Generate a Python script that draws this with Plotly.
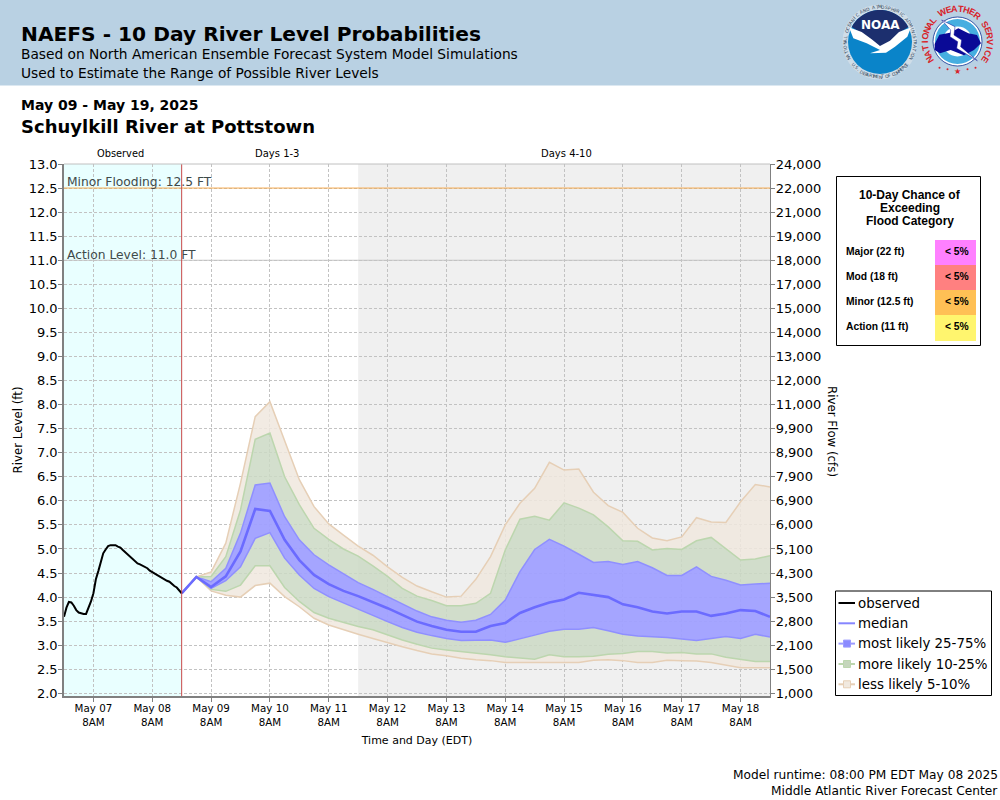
import math
import pandas as pd
import plotly.graph_objects as go

# ---------- data ----------
observed_level = [3.59,3.78,3.90,3.89,3.82,3.73,3.68,3.66,3.65,3.65,3.77,3.91,4.08,4.37,4.54,4.72,4.91,4.99,5.06,5.08,5.08,5.08,5.05,5.03,4.98,
                  4.93,4.89,4.84,4.80,4.75,4.70,4.68,4.65,4.63,4.60,4.55,4.52,4.48,4.45,4.43,4.40,4.36,4.34,4.32,4.27,4.23,4.20,4.14,4.08]
tan_top = [4.08,4.42,4.52,5.12,6.37,7.75,8.06,7.23,6.44,5.88,5.52,5.29,5.06,4.87,
           4.63,4.41,4.23,4.11,4.00,4.02,4.37,4.84,5.50,5.95,6.26,6.80,6.64,6.66,6.18,5.90,5.76,5.43,5.23,5.17,5.25,5.65,5.56,5.55,5.98,6.34,6.29]
green_top = [4.08,4.42,4.43,4.84,5.81,7.28,7.41,6.50,5.92,5.43,5.20,5.00,4.85,4.65,
             4.43,4.18,4.02,3.93,3.82,3.82,3.87,4.08,4.98,5.62,5.68,5.60,5.96,5.85,5.71,5.46,5.17,5.16,4.98,5.01,4.99,5.17,5.24,5.01,4.77,4.79,4.86]
blue_top = [4.08,4.42,4.32,4.60,5.33,6.33,6.37,5.67,5.19,4.88,4.67,4.49,4.30,4.16,
            4.01,3.85,3.71,3.59,3.52,3.48,3.52,3.64,3.94,4.53,4.99,5.20,5.06,4.89,4.72,4.74,4.68,4.74,4.61,4.45,4.45,4.63,4.43,4.35,4.25,4.27,4.29]
median = [4.08,4.42,4.21,4.43,4.95,5.83,5.79,5.19,4.77,4.46,4.27,4.13,4.02,3.90,
          3.77,3.63,3.49,3.40,3.32,3.28,3.28,3.40,3.46,3.67,3.79,3.89,3.95,4.09,4.04,4.00,3.85,3.79,3.70,3.66,3.70,3.70,3.61,3.66,3.73,3.71,3.59]
blue_bot = [4.08,4.42,4.18,4.34,4.63,5.22,5.34,4.81,4.46,4.18,4.01,3.88,3.74,3.62,
            3.49,3.37,3.27,3.20,3.14,3.10,3.11,3.11,3.06,3.13,3.21,3.29,3.33,3.33,3.37,3.30,3.23,3.19,3.18,3.16,3.13,3.10,3.14,3.18,3.14,3.23,3.17]
green_bot = [4.08,4.42,4.16,4.12,4.25,4.65,4.65,4.20,3.91,3.68,3.56,3.47,3.39,3.32,
             3.21,3.11,3.02,2.94,2.90,2.87,2.84,2.80,2.76,2.73,2.71,2.80,2.76,2.76,2.77,2.81,2.83,2.87,2.87,2.84,2.85,2.82,2.82,2.75,2.70,2.66,2.66]
tan_bot = [4.08,4.42,4.13,4.04,4.00,4.24,4.29,4.01,3.80,3.56,3.42,3.32,3.23,3.14,
           3.05,2.97,2.89,2.82,2.78,2.73,2.70,2.68,2.64,2.64,2.63,2.64,2.64,2.64,2.69,2.70,2.68,2.64,2.64,2.69,2.68,2.67,2.64,2.58,2.53,2.53,2.53]
stage_ticks = [2.0,2.5,3.0,3.5,4.0,4.5,5.0,5.5,6.0,6.5,7.0,7.5,8.0,8.5,9.0,9.5,10.0,10.5,11.0,11.5,12.0,12.5,13.0]
flow_labels = ["1,000","1,500","2,100","2,800","3,500","4,300","5,100","6,000","6,900","7,900","8,900","9,900","11,000",
               "12,000","13,000","14,000","15,000","17,000","18,000","19,000","21,000","22,000","24,000"]
day_labels = ["May 07","May 08","May 09","May 10","May 11","May 12","May 13","May 14","May 15","May 16","May 17","May 18"]
categories = ["Major (22 ft)","Mod (18 ft)","Minor (12.5 ft)","Action (11 ft)"]
chances = ["< 5%","< 5%","< 5%","< 5%"]

obs_times = pd.date_range("2025-05-06 20:00", periods=len(observed_level), freq="h")
fc_times = pd.date_range("2025-05-08 20:00", periods=len(median), freq="6h")
tick_times = pd.date_range("2025-05-07 08:00", periods=len(day_labels), freq="D")

# ---------- layout geometry (pixels) ----------
W, H = 1000, 800
L, R, T, B = 64, 770, 164, 696
def px(x): return (x - L) / (R - L)
def py(y): return (B - y) / (B - T)

TAN, TAN_L = "rgba(240,232,222,0.85)", "#e6cfb6"
GRN, GRN_L = "rgba(203,217,196,0.85)", "#bcd6ae"
BLU, BLU_L = "rgba(160,160,255,0.95)", "#8f8fff"
MED = "#6b6bff"

fig = go.Figure()
fig.add_trace(go.Scatter(x=fc_times, y=tan_bot, mode="lines", line=dict(color=TAN_L, width=1.5), name="less likely 5-10%", showlegend=False, hoverinfo="skip"))
for vals, fill, lc, nm in [(green_bot, TAN, GRN_L, "more likely 10-25%"), (blue_bot, GRN, BLU_L, "most likely 25-75%"),
                           (blue_top, BLU, BLU_L, "most likely 25-75%"), (green_top, GRN, GRN_L, "more likely 10-25%"),
                           (tan_top, TAN, TAN_L, "less likely 5-10%")]:
    fig.add_trace(go.Scatter(x=fc_times, y=vals, mode="lines", fill="tonexty", fillcolor=fill, line=dict(color=lc, width=1.5),
                             name=nm, showlegend=False))
fig.add_trace(go.Scatter(x=fc_times, y=median, mode="lines", line=dict(color=MED, width=2.6), name="median", showlegend=False))
fig.add_trace(go.Scatter(x=obs_times, y=observed_level, mode="lines", line=dict(color="black", width=2), name="observed", showlegend=False))
fig.add_trace(go.Scatter(x=fc_times[:1], y=[None], yaxis="y2", showlegend=False, hoverinfo="skip"))

shapes, ann = [], []
def rect(x0, y0, x1, y1, fill, line=None, lw=1, layer="above"):
    shapes.append(dict(type="rect", xref="paper", yref="paper", x0=px(x0), x1=px(x1), y0=py(y0), y1=py(y1),
                       fillcolor=fill, line=dict(color=line or "rgba(0,0,0,0)", width=lw if line else 0), layer=layer))
def seg(x0, y0, x1, y1, color, lw=1, layer="above"):
    shapes.append(dict(type="line", xref="paper", yref="paper", x0=px(x0), x1=px(x1), y0=py(y0), y1=py(y1),
                       line=dict(color=color, width=lw), layer=layer))
def circ(cx, cy, r, fill, line=None, lw=0):
    shapes.append(dict(type="circle", xref="paper", yref="paper", x0=px(cx-r), x1=px(cx+r), y0=py(cy+r), y1=py(cy-r),
                       fillcolor=fill, line=dict(color=line or "rgba(0,0,0,0)", width=lw), layer="above"))
def poly(pts, fill, line=None, lw=0):
    d = "M " + " L ".join(f"{px(x):.5f},{py(y):.5f}" for x, y in pts) + " Z"
    shapes.append(dict(type="path", xref="paper", yref="paper", path=d, fillcolor=fill,
                       line=dict(color=line or "rgba(0,0,0,0)", width=lw), layer="above"))
def text(x, y, s, size=12, color="#000", bold=False, anchor="left", family="DejaVu Sans", angle=0):
    ann.append(dict(xref="paper", yref="paper", x=px(x), y=py(y), text=f"<b>{s}</b>" if bold else s, showarrow=False,
                    xanchor=anchor, yanchor="middle", textangle=angle, borderpad=0, align=anchor,
                    font=dict(size=size, color=color, family=family)))

# plot regions
xr = lambda a, b: dict(type="rect", xref="x", yref="paper", x0=a, x1=b, y0=0, y1=1, line=dict(width=0), layer="below")
shapes.append({**xr("2025-05-06 20:00", "2025-05-08 20:00"), "fillcolor": "#e9ffff"})
shapes.append({**xr("2025-05-11 20:00", "2025-05-18 20:00"), "fillcolor": "#f0f0f0"})
shapes.append(dict(type="line", xref="paper", yref="y", x0=0, x1=1, y0=12.5, y1=12.5, line=dict(color="#f5a94e", width=1), layer="above"))
shapes.append(dict(type="line", xref="paper", yref="y", x0=0, x1=1, y0=11.0, y1=11.0, line=dict(color="#c4c4c4", width=1), layer="above"))
shapes.append(dict(type="line", xref="x", yref="paper", x0="2025-05-08 20:00", x1="2025-05-08 20:00", y0=0, y1=1, line=dict(color="#c84a4a", width=1), layer="above"))
seg(L, T, R, T, "#c0c0c0", 1)
text(66, 181.5, "Minor Flooding: 12.5 FT", 12.3, "#404a4a")
text(66, 254.5, "Action Level: 11.0 FT", 12.3, "#404a4a")
text(120, 153.5, "Observed", 9.8, anchor="center")
text(276.5, 153.5, "Days 1-3", 10, anchor="center")
text(566.5, 153.5, "Days 4-10", 10, anchor="center")

# header
rect(0, 0, W, 85.5, "#b9d1e3")
text(20, 33.5, "NAEFS - 10 Day River Level Probabilities", 20.2, bold=True)
text(20, 54, "Based on North American Ensemble Forecast System Model Simulations", 13.75)
text(20, 73, "Used to Estimate the Range of Possible River Levels", 13.75)
text(20, 105, "May 09 - May 19, 2025", 14, bold=True)
text(20, 126, "Schuylkill River at Pottstown", 18, bold=True)
text(998.5, 775, "Model runtime: 08:00 PM EDT May 08 2025", 12.2, anchor="right")
text(998.5, 791, "Middle Atlantic River Forecast Center", 12.2, anchor="right")
text(832, 431, "River Flow (cfs)", 11.8, anchor="center", angle=90)

# exceedance box
LS = "Liberation Sans"
rect(836.5, 176.5, 980.5, 345.5, "#ffffff", "#000000", 1)
for y, s in zip((195, 208, 221), ("10-Day Chance of", "Exceeding", "Flood Category")):
    text(910, y, s, 12, bold=True, anchor="center", family=LS)
for i, (cat, ch, col) in enumerate(zip(categories, chances, ("#ff80ff", "#ff8080", "#ffc055", "#fff56e"))):
    y0 = 240 + i * 25
    rect(935, y0, 976, y0 + (26 if i == 3 else 25), col)
    text(844.5, y0 + 11.4, cat, 10.3, bold=True, family=LS)
    text(970, y0 + 11.4, ch, 10.3, bold=True, family=LS, anchor="right")

# legend box
rect(835.5, 591, 991.5, 695.5, "#ffffff", "#000000", 1)
leg = [("observed", "#000000", None), ("median", "#8686ff", None), ("most likely 25-75%", "#9b9bff", "#8a8aff"),
       ("more likely 10-25%", "#bcd6ae", "#c5d6bc"), ("less likely 5-10%", "#e6cfb6", "#f1e9df")]
for (name, lc, box), y in zip(leg, (603, 623.3, 643.6, 664, 684.3)):
    seg(838.5, y, 855, y, lc, 2)
    if box:
        rect(843.5, y - 3.5, 850.5, y + 3.5, box, lc, 1)
    text(857, y, name, 13.4)

# NOAA logo
def z(p): return (830 + p[0] / 3, p[1] / 3)
def arc(cx, cy, r, a0, a1, n=30):
    return [(cx + r * math.sin(math.radians(a0 + (a1 - a0) * k / n)), cy - r * math.cos(math.radians(a0 + (a1 - a0) * k / n))) for k in range(n + 1)]
def ring(s, cx, cy, r, a0, a1, size, color, bold=False, fam="DejaVu Sans"):
    n = len(s)
    for k, ch in enumerate(s):
        if ch == " ":
            continue
        a = a0 + (a1 - a0) * k / (n - 1)
        x = cx + r * math.sin(math.radians(a)); y = cy - r * math.cos(math.radians(a))
        rot = a if a1 > a0 else a - 180
        text(x, y, ch, size, color, bold, "center", fam, rot)

circ(880, 42, 37.5, "#cfdde8")
circ(880, 42, 32, "#0a84c9")
navy = arc(880, 42, 32, -62, 62) + [z(p) for p in [(205, 100), (180, 125), (150, 140), (125, 120), (95, 100)]]
poly(navy, "#1c2f6e")
bird = [z(p) for p in [(57, 82), (95, 96), (125, 118), (150, 138), (180, 122), (207, 96), (243, 82), (232, 110), (195, 140), (168, 158), (120, 160), (150, 150), (110, 130), (70, 115)]]
poly(bird, "#ffffff")
text(880, 25, "<b>NOAA</b>", 12, "#ffffff", anchor="center")
ring("NATIONAL OCEANIC AND ATMOSPHERIC ADMINISTRATION", 880, 42, 35, -118, 118, 4.5, "#33475b")
ring("U.S. DEPARTMENT OF COMMERCE", 880, 42, 35, 230, 130, 4.5, "#33475b")

# NWS logo
cx, cy = 957.5, 41.5
circ(cx, cy, 24.5, "#ffffff", "#0a2f8f", 0.8)
circ(cx, cy, 22.5, "#46aee0")
circ(cx, cy, 15, "#ffffff")
cloud = [z(p) for p in [(314, 132), (328, 104), (360, 98), (385, 85), (415, 100), (441, 105), (453, 130), (432, 150), (402, 166), (362, 150), (330, 160), (314, 150)]]
poly(cloud, "#0a0a96")
bolt = [z(p) for p in [(335, 60), (375, 80), (372, 105), (395, 120), (392, 140), (442, 182), (380, 145), (383, 125), (360, 110), (362, 90)]]
poly(bolt, "#ffffff", "#0a0a96", 0.5)
ring("NATIONAL WEATHER SERVICE", cx, cy, 32.5, -123, 123, 9, "#d8232a", True, LS)
text(cx, 71.5, "★", 8, "#d8232a", anchor="center")
for dx in (-10, -18, 10, 18):
    circ(cx + dx, 71 - abs(dx) * 0.18, 1, "#d8232a")

GRID = dict(showgrid=True, gridcolor="#c2c2c2", griddash="3px,2px", gridwidth=1, zeroline=False)
fig.update_layout(
    width=W, height=H, autosize=False,
    margin=dict(l=L, r=W - R, t=T, b=H - B, pad=0),
    paper_bgcolor="white", plot_bgcolor="white",
    font=dict(family="DejaVu Sans", color="#000"),
    showlegend=False, shapes=shapes, annotations=ann,
    xaxis=dict(type="date", range=["2025-05-06 20:00", "2025-05-18 20:00"], tickmode="array", tickvals=list(tick_times),
               ticktext=[f"{d}<br>8AM" for d in day_labels], tickfont=dict(size=10.3), ticks="outside", ticklen=4, ticklabelstandoff=-2,
               tickcolor="#808080", showline=True, linecolor="#808080", linewidth=1.5, **GRID,
               title=dict(text="Time and Day (EDT)", font=dict(size=11), standoff=10)),
    yaxis=dict(range=[1.945, 13.0], tickmode="array", tickvals=stage_ticks, ticktext=[f"{v:.1f}" for v in stage_ticks],
               tickfont=dict(size=13), ticks="outside", ticklen=4, ticklabelstandoff=-2, tickcolor="#808080", showline=True, linecolor="#808080",
               linewidth=1.5, **GRID,
               title=dict(text="River Level (ft)", font=dict(size=11.8), standoff=4)),
    yaxis2=dict(overlaying="y", side="right", anchor="x", range=[1.945, 13.0], tickmode="array", tickvals=stage_ticks,
                ticktext=flow_labels, tickfont=dict(size=13), ticks="outside", ticklen=4, ticklabelstandoff=-2, tickcolor="#808080",
                showline=True, linecolor="#808080", linewidth=1.2, showgrid=False, zeroline=False),
)
fig.write_html("out.html", post_script="document.body.style.margin='0';", config={"displayModeBar": False})
